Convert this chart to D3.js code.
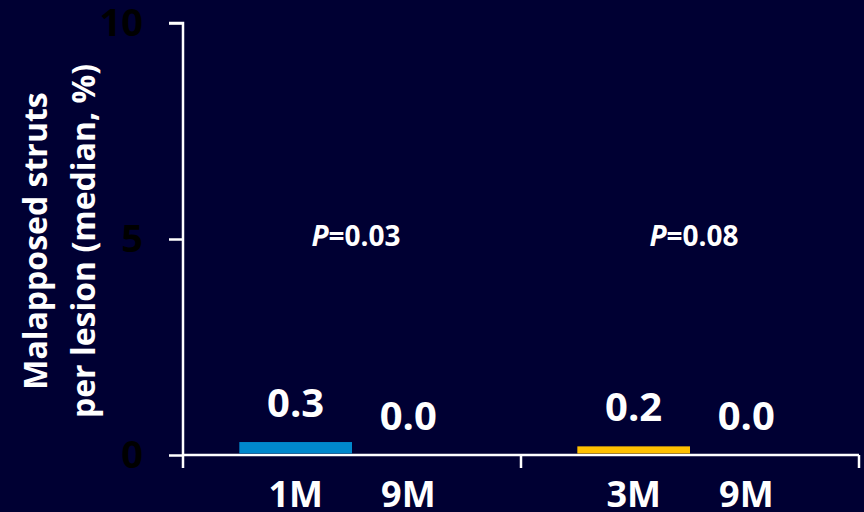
<!DOCTYPE html>
<html>
<head>
<meta charset="utf-8">
<script src="https://cdn.jsdelivr.net/npm/d3@7"></script>
<style>
  html, body { margin: 0; padding: 0; background: #000033; }
  svg { display: block; }
  text { font-family: "Open Sans", Lato, sans-serif; font-weight: bold; }
</style>
</head>
<body>
<script>
// Two follow-up comparisons, each with an early and a 9-month time point
const groupIds = ["g1", "g2"];
const timeLabels = [["1M", "9M"], ["3M", "9M"]];
const medianValues = [[0.3, 0.0], [0.2, 0.0]];
const pValues = ["0.03", "0.08"];
const barColors = ["#0088CC", "#FFC000"];
const yTicks = [0, 5, 10];

const W = 864, H = 512;
const margin = { left: 183, right: 5, top: 23, bottom: 57 };

const svg = d3.select("body").append("svg")
  .attr("width", W).attr("height", H);

svg.append("rect").attr("width", W).attr("height", H).attr("fill", "#000033");

const y = d3.scaleLinear().domain([0, 10]).range([H - margin.bottom, margin.top]);
const xGroup = d3.scaleBand().domain(groupIds)
  .range([margin.left, W - margin.right]).paddingInner(0).paddingOuter(0);
const xInner = d3.scaleBand().domain([0, 1])
  .range([0, xGroup.bandwidth()]).paddingInner(0).paddingOuter(0.5);

// Y axis
const yAxis = d3.axisLeft(y).tickValues(yTicks).tickSize(14).tickPadding(26);
const gy = svg.append("g").attr("transform", `translate(${margin.left},0)`).call(yAxis);
gy.select(".domain").attr("stroke", "#fff").attr("stroke-width", 2.5)
  .attr("d", `M-14,${y(10)}H0V${y(0) + 13}`);
gy.selectAll(".tick line").attr("stroke", "#fff").attr("stroke-width", 2.5);
gy.selectAll(".tick text").attr("fill", "#000").attr("font-size", 38)
  .attr("font-family", "'Open Sans', sans-serif").attr("font-weight", "bold");

// X axis: baseline with ticks at group boundaries
const xEdges = [margin.left].concat(groupIds.map(g => xGroup(g) + xGroup.bandwidth()));
const gx = svg.append("g");
gx.append("line")
  .attr("x1", margin.left).attr("x2", xEdges[xEdges.length - 1])
  .attr("y1", y(0)).attr("y2", y(0))
  .attr("stroke", "#fff").attr("stroke-width", 2.5);
gx.selectAll("line.edge").data(xEdges.slice(1)).join("line")
  .attr("class", "edge")
  .attr("x1", d => d).attr("x2", d => d)
  .attr("y1", y(0)).attr("y2", y(0) + 13)
  .attr("stroke", "#fff").attr("stroke-width", 2.5);

// Bars, value labels and time point labels
groupIds.forEach((g, gi) => {
  const grp = svg.append("g").attr("transform", `translate(${xGroup(g)},0)`);
  const items = medianValues[gi].map((v, i) => ({ v, i, label: timeLabels[gi][i] }));

  grp.selectAll("rect").data(items.filter(d => d.v > 0)).join("rect")
    .attr("x", d => xInner(d.i))
    .attr("width", xInner.bandwidth())
    .attr("y", d => y(d.v))
    .attr("height", d => y(0) - 1.5 - y(d.v))
    .attr("fill", barColors[gi]);

  grp.selectAll("text.val").data(items).join("text")
    .attr("class", "val")
    .attr("x", d => xInner(d.i) + xInner.bandwidth() / 2)
    .attr("y", d => y(d.v) - 25)
    .attr("text-anchor", "middle")
    .attr("fill", "#fff").attr("font-size", 40)
    .text(d => d.v.toFixed(1));

  grp.selectAll("text.tp").data(items).join("text")
    .attr("class", "tp")
    .attr("x", d => xInner(d.i) + xInner.bandwidth() / 2)
    .attr("y", 507)
    .attr("text-anchor", "middle")
    .attr("fill", "#fff").attr("font-size", 36)
    .text(d => d.label);

  const pt = grp.append("text")
    .attr("x", xGroup.bandwidth() / 2 + 4)
    .attr("y", 246)
    .attr("text-anchor", "middle")
    .attr("fill", "#fff").attr("font-size", 28);
  pt.append("tspan").attr("font-style", "italic").text("P");
  pt.append("tspan").text("=" + pValues[gi]);
});

// Y axis title
const title = svg.append("text")
  .attr("transform", `translate(47,241) rotate(-90)`)
  .attr("text-anchor", "middle")
  .attr("fill", "#fff").attr("font-size", 32);
title.append("tspan").attr("x", 0).attr("dy", 0).text("Malapposed struts");
title.append("tspan").attr("x", 0).attr("dy", 48).text("per lesion (median, %)");
</script>
</body>
</html>
